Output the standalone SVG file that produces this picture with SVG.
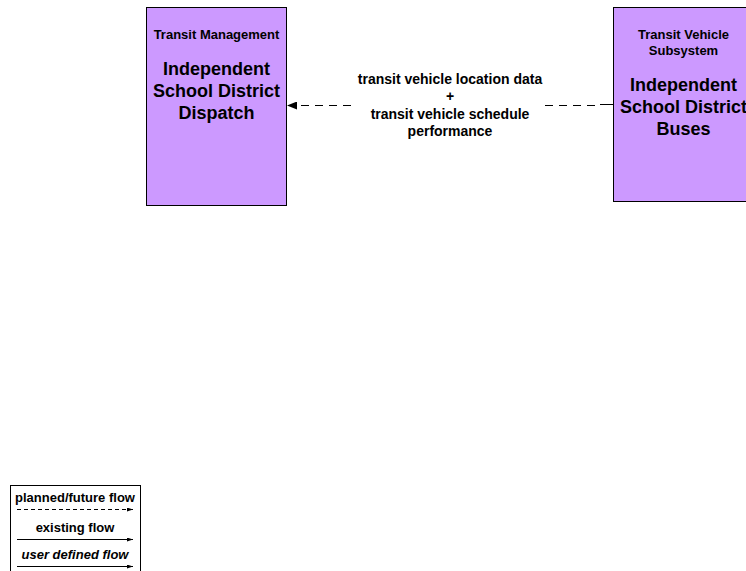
<svg xmlns="http://www.w3.org/2000/svg" width="746" height="571" viewBox="0 0 746 571">
<style>
.box{fill:#cc99ff;stroke:#000;stroke-width:1}
text{font-family:"Liberation Sans",Arial,sans-serif;font-weight:bold;fill:#000;text-anchor:middle}
.s{font-size:13px}
.b{font-size:18px}
.l{font-size:14px}
.lg{font-size:13px}
.dash{stroke:#000;stroke-width:1;fill:none;stroke-dasharray:8,6}
.line{stroke:#000;stroke-width:1;fill:none}
</style>
<defs>
<marker id="ah" markerWidth="10" markerHeight="8" refX="9" refY="4" orient="auto" markerUnits="userSpaceOnUse">
<path d="M0,0 L10,4 L0,8 Z" fill="#000"/>
</marker>
<marker id="sa" markerWidth="6" markerHeight="4" refX="6" refY="2" orient="auto" markerUnits="userSpaceOnUse">
<path d="M0,0 L6,2 L0,4 Z" fill="#000"/>
</marker>
</defs>
<rect width="746" height="571" fill="#fff"/>
<g id="node-dispatch">
<rect class="box" x="146.5" y="7.5" width="140" height="198"/>
<text class="s" x="216.5" y="39">Transit Management</text>
<text class="b" x="216.5" y="75">Independent</text>
<text class="b" x="216.5" y="97">School District</text>
<text class="b" x="216.5" y="119">Dispatch</text>
</g>
<g id="node-buses">
<rect class="box" x="613.5" y="7.5" width="140" height="194"/>
<text class="s" x="683.5" y="39">Transit Vehicle</text>
<text class="s" x="683.5" y="55">Subsystem</text>
<text class="b" x="683.5" y="91">Independent</text>
<text class="b" x="683.5" y="113">School District</text>
<text class="b" x="683.5" y="135">Buses</text>
</g>
<g id="connectors">
<path class="dash" d="M545,105.5 L595,105.5"/>
<path class="line" d="M600,104.5 L613,104.5"/>
<path class="dash" d="M351,105.5 L288,105.5" marker-end="url(#ah)"/>
<text class="l" x="450" y="84">transit vehicle location data</text>
<text class="l" x="450" y="101">+</text>
<text class="l" x="450" y="119">transit vehicle schedule</text>
<text class="l" x="450" y="136">performance</text>
</g>
<g id="legend">
<rect x="10.5" y="485.5" width="130" height="90" fill="#fff" stroke="#000"/>
<text class="lg" x="75" y="502">planned/future flow</text>
<path d="M17,509.5 L133,509.5" stroke="#000" fill="none" stroke-dasharray="4,3" marker-end="url(#sa)"/>
<text class="lg" x="75" y="532">existing flow</text>
<path class="line" d="M17,539.5 L133,539.5" marker-end="url(#sa)"/>
<text class="lg" x="75" y="559" font-style="italic">user defined flow</text>
<path class="line" d="M17,566.5 L133,566.5" marker-end="url(#sa)"/>
</g>
</svg>
